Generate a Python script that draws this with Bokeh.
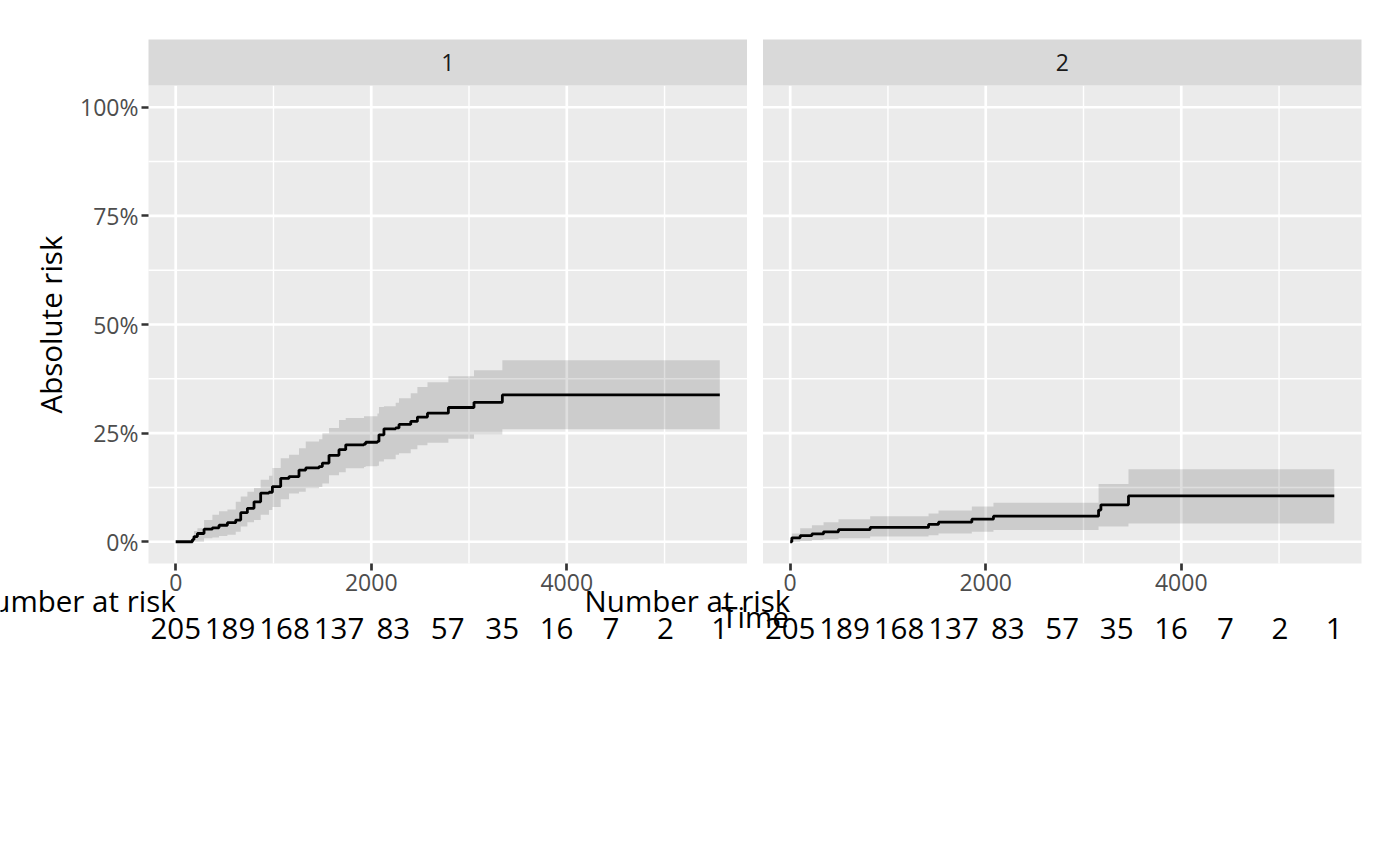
import numpy as np
from bokeh.plotting import figure
from bokeh.models import Range1d, FixedTicker, NumeralTickFormatter, LabelSet, Label, ColumnDataSource
from bokeh.core.properties import value
from bokeh.embed import file_html
from bokeh.resources import INLINE

FONT = "Open Sans"

# ---------------- data ----------------
panel_labels = ["1", "2"]
t_max = 5565

c1_time = [0, 171, 187, 222, 290, 375, 443, 529, 614, 665, 733, 801, 869, 954, 989, 1074, 1159, 1261, 1330, 1466,
           1500, 1568, 1670, 1739, 1926, 1943, 2063, 2079, 2130, 2250, 2284, 2404, 2472, 2575, 2789, 3051, 3341, 5565]
c1_est = [0, .005, .012, .019, .029, .032, .038, .044, .050, .067, .077, .092, .112, .114, .127, .146, .150, .165, .170, .173,
          .181, .199, .212, .223, .225, .229, .231, .246, .260, .262, .270, .277, .287, .296, .309, .321, .338, .338]
c1_lower = [0, 0, 0, 0, .008, .010, .013, .016, .023, .035, .045, .050, .062, .073, .080, .098, .111, .115, .123, .126,
            .134, .153, .160, .169, .172, .174, .175, .185, .190, .200, .204, .213, .222, .228, .237, .247, .259, .259]
c1_upper = [0, .010, .025, .031, .050, .062, .070, .074, .092, .104, .115, .124, .143, .152, .170, .192, .200, .215, .231, .236,
            .250, .262, .280, .285, .289, .289, .295, .310, .312, .320, .330, .342, .356, .367, .381, .395, .418, .418]

c2_time = [0, 17, 102, 222, 341, 494, 818, 1415, 1517, 1858, 2079, 3154, 3178, 3460, 5565]
c2_est = [0, .009, .014, .018, .023, .028, .033, .040, .045, .052, .059, .073, .085, .1055, .1055]
c2_lower = [0, 0, .002, .004, .006, .008, .012, .015, .019, .023, .027, .035, .035, .042, .042]
c2_upper = [0, .019, .031, .038, .045, .052, .059, .065, .072, .081, .090, .133, .133, .167, .167]

risk_times = [0, 556, 1113, 1670, 2226, 2782, 3339, 3896, 4452, 5008, 5565]
risk_counts = [205, 189, 168, 137, 83, 57, 35, 16, 7, 2, 1]

x_major = [0, 2000, 4000]
x_minor = [1000, 3000, 5000]
y_major = [0, 0.25, 0.5, 0.75, 1.0]
y_minor = [0.125, 0.375, 0.625, 0.875]

# ---------------- layout (pixels) ----------------
FW, FH = 1392, 858
P1_LEFT = 148
PANEL_W = 598.5
GAP = 16
P2_LEFT = P1_LEFT + PANEL_W + GAP
PANEL_TOP = 85
PANEL_BOTTOM = 563
STRIP_H = 46
TITLE_SIZE = "29.5px"
TICK_SIZE = "23px"

x_lo = -0.05 * t_max
x_hi = t_max * 1.05
sx = PANEL_W / (x_hi - x_lo)
off = round((P2_LEFT - P1_LEFT) / sx)
y_lo, y_hi = -0.05, 1.05
sy = (PANEL_BOTTOM - PANEL_TOP) / (y_hi - y_lo)

def y_at(px):
    return y_lo - (px - PANEL_BOTTOM) / sy

def x_at(px):
    return x_lo + (px - P1_LEFT) / sx

p = figure(frame_width=FW, frame_height=FH,
           x_range=Range1d(x_at(0), x_at(FW)),
           y_range=Range1d(y_at(FH), y_at(0)),
           output_backend="svg", toolbar_location=None,
           min_border_left=0, min_border_right=0, min_border_top=0, min_border_bottom=0)
p.extra_x_ranges = {"p2": Range1d(x_at(0) - off, x_at(FW) - off)}
p.background_fill_color = "white"
p.border_fill_color = "white"
p.outline_line_color = None
p.grid.visible = False

panels = [
    ("default", c1_time, c1_est, c1_lower, c1_upper),
    ("p2", c2_time, c2_est, c2_lower, c2_upper),
]

for (rname, tt, est, lo, up), lab in zip(panels, panel_labels):
    p.quad(left=x_lo, right=x_hi, bottom=y_lo, top=y_hi, fill_color="#EBEBEB",
           line_color=None, x_range_name=rname)
    p.segment(x0=x_minor, x1=x_minor, y0=y_lo, y1=y_hi, line_color="white", line_width=1.4, x_range_name=rname)
    p.segment(x0=x_lo, x1=x_hi, y0=y_minor, y1=y_minor, line_color="white", line_width=1.4, x_range_name=rname)
    p.segment(x0=x_major, x1=x_major, y0=y_lo, y1=y_hi, line_color="white", line_width=2.7, x_range_name=rname)
    p.segment(x0=x_lo, x1=x_hi, y0=y_major, y1=y_major, line_color="white", line_width=2.7, x_range_name=rname)
    src = ColumnDataSource(dict(t=tt, est=est, lo=lo, up=up))
    p.varea_step(x="t", y1="lo", y2="up", source=src, step_mode="after",
                 fill_color="black", fill_alpha=0.13, x_range_name=rname)
    p.step(x="t", y="est", source=src, mode="after", line_color="black", line_width=2.8,
           x_range_name=rname)
    # strip
    p.quad(left=x_lo, right=x_hi, bottom=y_hi, top=y_at(PANEL_TOP - STRIP_H), fill_color="#D9D9D9",
           line_color=None, x_range_name=rname)
    p.text(x=[(x_lo + x_hi) / 2], y=[y_at(PANEL_TOP - STRIP_H / 2)], text=[lab], text_font=value(FONT),
           text_font_size=TICK_SIZE, text_color="#1A1A1A", text_align="center",
           text_baseline="middle", x_range_name=rname)
    # number at risk
    rsrc = ColumnDataSource(dict(x=risk_times, y=[y_at(638)] * len(risk_times),
                                 txt=[str(c) for c in risk_counts]))
    p.add_layout(LabelSet(x="x", y="y", text="txt", source=rsrc, x_range_name=rname,
                          text_font=value(FONT), text_font_size=TITLE_SIZE, text_color="black",
                          text_align="center", text_baseline="alphabetic"))
    hsrc = ColumnDataSource(dict(x=[0], y=[y_at(611.5)], txt=["Number at risk"]))
    p.add_layout(LabelSet(x="x", y="y", text="txt", source=hsrc, x_range_name=rname,
                          text_font=value(FONT), text_font_size=TITLE_SIZE, text_color="black",
                          text_align="right", text_baseline="alphabetic"))

# axes placed at the panel edges
ticks = x_major + [t + off for t in x_major]
p.xaxis.ticker = FixedTicker(ticks=ticks, minor_ticks=[])
p.xaxis.major_label_overrides = {t: str(t) for t in x_major} | {t + off: str(t) for t in x_major}
p.xaxis.fixed_location = y_lo
p.yaxis.ticker = FixedTicker(ticks=y_major, minor_ticks=[])
p.yaxis.formatter = NumeralTickFormatter(format="0%")
p.yaxis.fixed_location = x_lo
for ax in (p.xaxis, p.yaxis):
    ax.axis_line_color = None
    ax.major_tick_line_color = "#333333"
    ax.major_tick_line_width = 2.7
    ax.major_tick_out = 7
    ax.major_tick_in = 0
    ax.minor_tick_line_color = None
    ax.major_label_text_font = FONT
    ax.major_label_text_font_size = TICK_SIZE
    ax.major_label_text_color = "#4D4D4D"
    ax.major_label_standoff = 3

# axis titles
tsrc = ColumnDataSource(dict(x=[x_at((P1_LEFT + P2_LEFT + PANEL_W) / 2)], y=[y_at(627)], txt=["Time"]))
p.add_layout(LabelSet(x="x", y="y", text="txt", source=tsrc,
                      text_font=value(FONT), text_font_size=TITLE_SIZE, text_color="black",
                      text_align="center", text_baseline="alphabetic"))
p.add_layout(Label(x=x_at(50), y=0.5, text="Absolute risk", angle=np.pi / 2,
                   text_font=FONT, text_font_size=TITLE_SIZE, text_color="black",
                   text_align="center", text_baseline="middle"))

open("out.html", "w").write(file_html(p, INLINE))
